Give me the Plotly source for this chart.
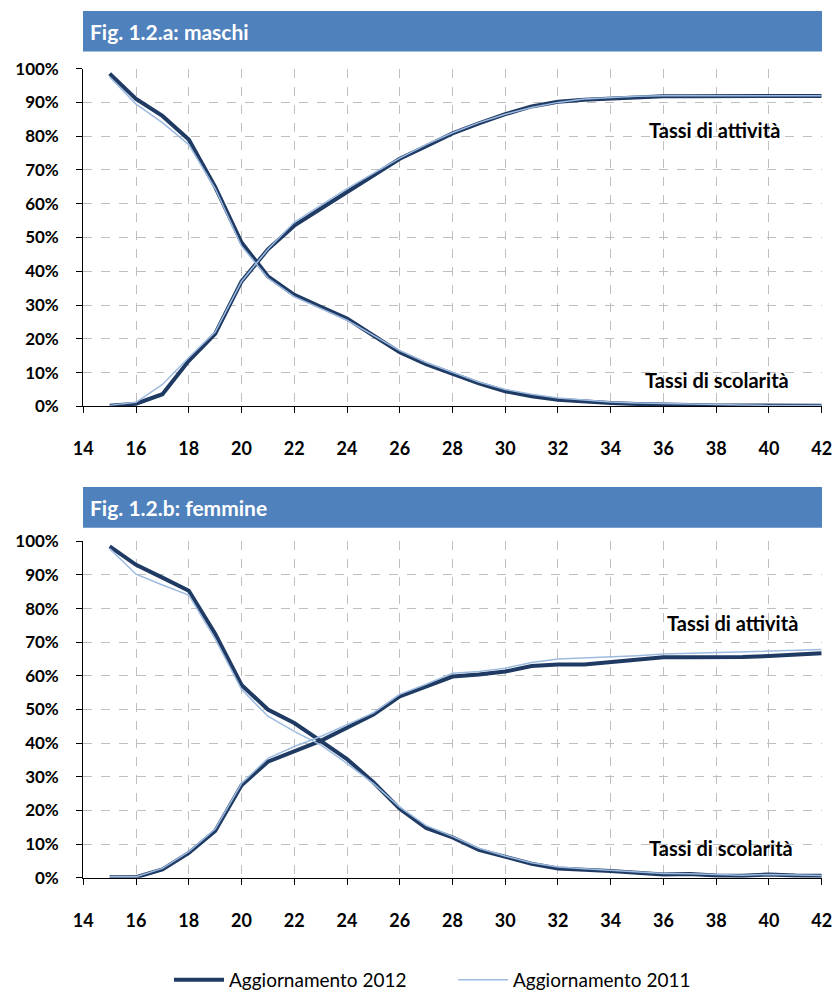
import plotly.graph_objects as go

ages = list(range(15, 43))

# Fig. 1.2.a: maschi (percent)
m_scol_2012 = [98.5, 91.0, 86.0, 79.0, 65.0, 48.5, 38.5, 33.0, 29.5, 26.0, 21.0, 16.0, 12.5, 9.5,
               6.8, 4.5, 3.0, 2.0, 1.4, 1.0, 0.7, 0.5, 0.4, 0.3, 0.3, 0.2, 0.2, 0.2]
m_scol_2011 = [97.5, 89.5, 84.0, 77.5, 64.5, 47.5, 38.0, 32.5, 29.0, 25.5, 21.0, 16.5, 13.0, 10.0,
               7.2, 5.0, 3.6, 2.5, 1.8, 1.3, 1.0, 0.8, 0.6, 0.5, 0.4, 0.3, 0.3, 0.3]
m_att_2012 = [0.2, 0.8, 3.6, 13.5, 21.5, 37.0, 46.5, 53.5, 58.5, 63.5, 68.3, 73.3, 77.0, 80.8,
              83.8, 86.5, 88.8, 90.2, 90.8, 91.2, 91.6, 91.8, 91.8, 91.9, 91.9, 91.9, 91.9, 91.9]
m_att_2011 = [0.3, 1.2, 6.5, 14.5, 22.0, 37.0, 46.5, 54.5, 59.5, 64.5, 69.0, 73.5, 77.5, 81.0,
              84.0, 86.5, 88.5, 90.0, 91.0, 91.5, 91.8, 92.0, 92.0, 92.0, 92.0, 92.0, 92.0, 92.0]

# Fig. 1.2.b: femmine (percent)
f_scol_2012 = [98.5, 93.0, 89.2, 85.3, 72.5, 57.3, 50.0, 46.0, 40.7, 35.3, 28.4, 20.5, 14.8, 12.0,
               8.3, 6.4, 4.2, 2.8, 2.5, 2.0, 1.5, 1.0, 1.1, 0.7, 0.6, 1.0, 0.7, 0.6]
f_scol_2011 = [97.8, 90.2, 87.0, 84.0, 71.0, 56.0, 48.0, 43.5, 39.5, 34.0, 28.0, 21.0, 15.5, 12.3,
               8.8, 6.5, 4.5, 3.2, 2.7, 2.2, 1.8, 1.3, 1.2, 0.9, 0.8, 1.0, 0.8, 0.7]
f_att_2012 = [0.2, 0.2, 2.5, 7.4, 13.9, 27.5, 34.5, 37.5, 40.7, 44.6, 48.5, 53.9, 57.0, 59.8,
              60.4, 61.3, 62.9, 63.4, 63.4, 64.0, 64.9, 65.5, 65.5, 65.5, 65.6, 65.9, 66.3, 66.7]
f_att_2011 = [0.3, 0.3, 2.8, 7.8, 14.5, 28.0, 35.5, 39.0, 42.0, 45.5, 49.0, 54.5, 57.5, 60.8,
              61.3, 62.3, 64.0, 65.0, 65.3, 65.5, 66.0, 66.5, 66.7, 67.0, 67.0, 67.2, 67.5, 67.8]

panel_titles = ["Fig. 1.2.a: maschi", "Fig. 1.2.b: femmine"]
series_names = ["Aggiornamento 2012", "Aggiornamento 2011"]
label_att = "Tassi di attività"
label_scol = "Tassi di scolarità"
x_ticks = list(range(14, 43, 2))
y_ticks = list(range(0, 101, 10))
y_ticktext = [f"{v}%" for v in y_ticks]

W, H = 834, 999
DARK = "#1F3A63"
LIGHT = "#9DBBE0"
BAR = "#4F81BD"
FONT = "Lato"

def py(p):  # window pixel y (from top) -> paper
    return 1 - p / H

def px(p):  # window pixel x -> paper
    return p / W

fig = go.Figure()

panels = [
    (m_scol_2012, m_scol_2011, m_att_2012, m_att_2011, "x", "y"),
    (f_scol_2012, f_scol_2011, f_att_2012, f_att_2011, "x2", "y2"),
]
for i, (s12, s11, a12, a11, xa, ya) in enumerate(panels):
    for vals, name, col, w, rank, leg in [(s12, series_names[0], DARK, 4, 1, True),
                                          (a12, series_names[0], DARK, 4, 1, False),
                                          (s11, series_names[1], LIGHT, 1.5, 2, True),
                                          (a11, series_names[1], LIGHT, 1.5, 2, False)]:
        fig.add_trace(go.Scatter(
            x=ages, y=vals, mode="lines", name=name, legendgroup=name,
            line=dict(color=col, width=w), xaxis=xa, yaxis=ya,
            showlegend=(i == 0 and leg), legendrank=rank,
            hoverinfo="skip"))

xdom = [px(83.3), px(821.7)]
ydoms = [[py(410.5), py(69.3)], [py(886.7), py(546.7)]]

axis_common = dict(showgrid=True, gridcolor="#BFBFBF", griddash="dash", gridwidth=1,
                   showline=True, linecolor="black", linewidth=1.2, ticks="outside",
                   tickcolor="black", zeroline=False, automargin=False)
xfont = dict(family=FONT, size=18, color="black", weight="bold")
yfont = dict(family=FONT, size=17, color="black", weight="bold")

for i, (xn, yn) in enumerate([("xaxis", "yaxis"), ("xaxis2", "yaxis2")]):
    fig.layout[xn] = dict(axis_common, domain=xdom, range=[14, 42], tickvals=x_ticks,
                          ticklen=6, anchor="y" if i == 0 else "y2", tickfont=xfont,
                          ticklabelstandoff=20)
    fig.layout[yn] = dict(axis_common, domain=ydoms[i], range=[0, 100], tickmode="array",
                          tickvals=y_ticks, ticktext=y_ticktext,
                          ticklen=6, anchor="x" if i == 0 else "x2", tickfont=yfont,
                          ticklabelstandoff=14)

# title bars
bars = [(11, 52), (492, 533)]
for i, (t, b) in enumerate(bars):
    fig.add_shape(type="rect", xref="paper", yref="paper", x0=px(83), x1=px(822),
                  y0=py(b), y1=py(t), fillcolor=BAR, line=dict(width=0), layer="below")
    fig.add_annotation(xref="paper", yref="paper", x=px(88), y=py((t + b) / 2),
                       xanchor="left", yanchor="middle", showarrow=False, text=panel_titles[i],
                       font=dict(family=FONT, size=21, color="white", weight="bold"))

# curve labels
lab_font = dict(family=FONT, size=20, color="black", weight="bold")
for xr, yr, xx, yy, txt in [("x", "y", 37.93, 81.7, label_att), ("x", "y", 38.04, 7.9, label_scol),
                            ("x2", "y2", 38.6, 75.8, label_att), ("x2", "y2", 38.18, 8.8, label_scol)]:
    fig.add_annotation(xref=xr, yref=yr, x=xx, y=yy, text=txt, showarrow=False,
                       xanchor="center", yanchor="middle", font=lab_font)

fig.update_layout(
    width=W, height=H, margin=dict(l=0, r=0, t=0, b=0),
    paper_bgcolor="white", plot_bgcolor="white", template="none",
    showlegend=True,
    legend=dict(orientation="h", x=px(169), xanchor="left", y=py(990), yanchor="middle",
                font=dict(family=FONT, size=19, color="black"), itemwidth=50,
                entrywidth=219, entrywidthmode="pixels", bgcolor="rgba(0,0,0,0)"),
)

fig.write_html("out.html", config={"displayModeBar": False},
               post_script="document.body.style.margin='0';document.body.style.padding='0';")
